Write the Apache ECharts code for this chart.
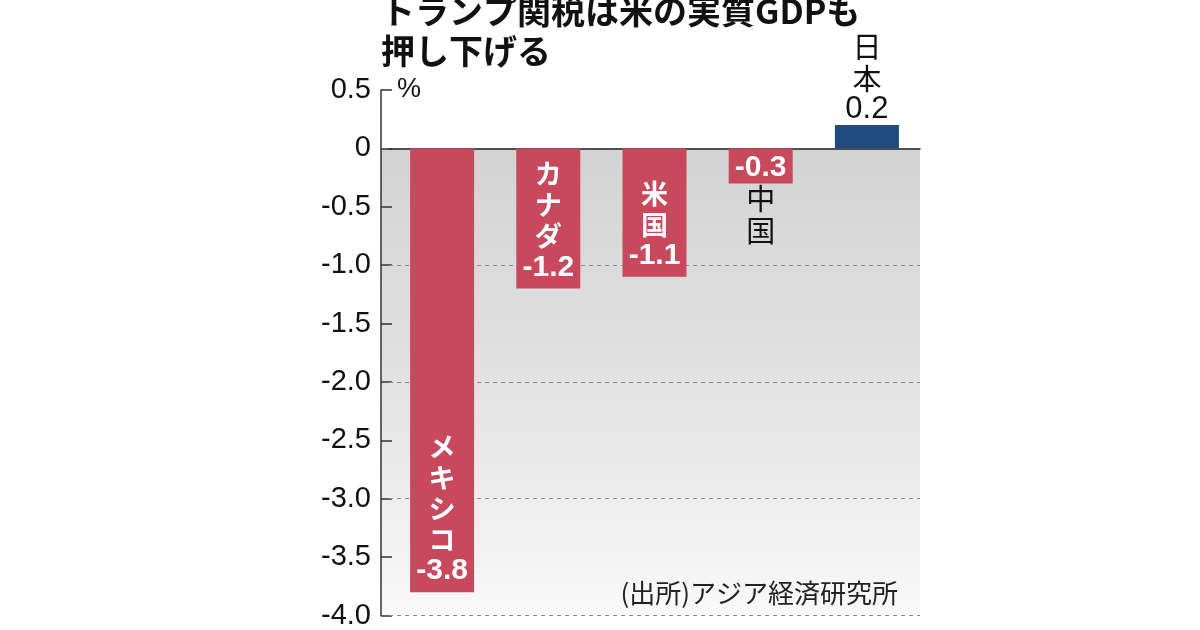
<!DOCTYPE html>
<html>
<head>
<meta charset="utf-8">
<script src="https://cdn.jsdelivr.net/npm/echarts@6/dist/echarts.min.js"></script>
<style>
  html, body { margin: 0; padding: 0; background: #fff; }
  #main { width: 1200px; height: 630px; }
</style>
</head>
<body>
<div id="main"></div>
<script>
// データ
var countries = ['メキシコ', 'カナダ', '米国', '中国', '日本'];
var gdpChange = [-3.8, -1.2, -1.1, -0.3, 0.2];
var barColors = ['#c8485c', '#c8485c', '#c8485c', '#c8485c', '#1f4b7e'];
var yTicks = [0.5, 0, -0.5, -1.0, -1.5, -2.0, -2.5, -3.0, -3.5, -4.0];
var yTickLabels = ['0.5', '0', '-0.5', '-1.0', '-1.5', '-2.0', '-2.5', '-3.0', '-3.5', '-4.0'];
var dashedLines = [-1, -2, -3, -4];

var GRID_LEFT = 389, GRID_RIGHT = 280, AXIS_OFFSET = 8;
var NUM_FONT = "'Liberation Sans', Arial, sans-serif";
var JP_FONT = "'Noto Sans CJK JP', sans-serif";

var chart = echarts.init(document.getElementById('main'));

// 国名を縦書きにしてラベルを作る
function vertical(name, key) {
    return name.split('').map(function (c) { return '{' + key + '|' + c + '}'; }).join('\n');
}

var barData = gdpChange.map(function (v, i) {
    var label;
    if (v > 0) {
        // 日本：棒の上に黒字
        label = {
            position: 'top', distance: 2,
            formatter: vertical(countries[i], 'b') + '\n{bv|' + v.toFixed(1) + '}'
        };
    } else if (v > -0.5) {
        // 中国：数値は棒の中、国名は棒の下
        label = {
            position: 'insideTop', distance: 3,
            formatter: '{v|' + v.toFixed(1) + '}\n' + vertical(countries[i], 'b')
        };
    } else {
        label = {
            position: 'insideBottom', distance: 5,
            formatter: vertical(countries[i], 'n') + '\n{v|' + v.toFixed(1) + '}'
        };
    }
    label.show = true;
    label.rich = {
        n: { color: '#fff', fontFamily: JP_FONT, fontSize: 27, fontWeight: 'bold', lineHeight: 31 },
        v: { color: '#fff', fontFamily: NUM_FONT, fontSize: 30, fontWeight: 'bold', lineHeight: 32 },
        b: { color: '#111', fontFamily: JP_FONT, fontSize: 29, lineHeight: 32 },
        bv: { color: '#111', fontFamily: NUM_FONT, fontSize: 31, lineHeight: 28 }
    };
    return { value: v, itemStyle: { color: barColors[i] }, label: label };
});

chart.setOption({
    animation: false,
    title: [{
        text: 'トランプ関税は米の実質GDPも\n押し下げる',
        left: 376, top: -14,
        textStyle: { fontFamily: JP_FONT, fontSize: 34, fontWeight: 'bold', color: '#111', lineHeight: 40 }
    }, {
        text: '(出所)アジア経済研究所',
        right: 297, top: 575,
        textStyle: { fontFamily: JP_FONT, fontSize: 26, fontWeight: 'normal', color: '#222' }
    }],
    grid: { left: GRID_LEFT, right: GRID_RIGHT, top: 90, bottom: 12 },
    xAxis: {
        type: 'category',
        data: countries,
        axisLine: { onZero: true, lineStyle: { color: '#222', width: 1.5 } },
        axisTick: { show: false },
        axisLabel: { show: false }
    },
    yAxis: {
        type: 'value',
        min: -4, max: 0.5, interval: 0.5,
        offset: AXIS_OFFSET,
        name: '%',
        nameLocation: 'end',
        nameGap: 0,
        nameTextStyle: {
            fontFamily: NUM_FONT, fontSize: 27, color: '#111',
            align: 'left', verticalAlign: 'middle', padding: [0, 0, 0, 16]
        },
        axisLine: { show: true, lineStyle: { color: '#333', width: 1.5 } },
        axisTick: { show: true, inside: true, length: 11, lineStyle: { color: '#333', width: 1.5 } },
        splitLine: { show: false },
        axisLabel: {
            margin: 10,
            fontFamily: NUM_FONT, fontSize: 29, color: '#111',
            formatter: function (val) {
                var i = yTicks.findIndex(function (t) { return Math.abs(t - val) < 1e-6; });
                return i >= 0 ? yTickLabels[i] : '';
            }
        }
    },
    series: [{
        type: 'bar',
        barWidth: 64,
        data: barData,
        markLine: {
            z: 1,
            silent: true,
            symbol: 'none',
            label: { show: false },
            lineStyle: { color: '#8a8a8a', type: [4, 4], width: 1 },
            data: dashedLines.map(function (v) { return { yAxis: v }; })
        }
    }]
});

// ゼロ以下の背景グラデーション
var yZero = chart.convertToPixel({ yAxisIndex: 0 }, 0);
var yBottom = chart.convertToPixel({ yAxisIndex: 0 }, -4);
chart.setOption({
    graphic: [{
        type: 'rect',
        z: -10,
        shape: {
            x: GRID_LEFT - AXIS_OFFSET, y: yZero,
            width: 1200 - GRID_RIGHT - GRID_LEFT + AXIS_OFFSET, height: yBottom - yZero
        },
        style: {
            fill: new echarts.graphic.LinearGradient(0, 0, 0, 1, [
                { offset: 0, color: '#d3d3d3' },
                { offset: 0.5, color: '#e2e2e2' },
                { offset: 1, color: '#f9f9f9' }
            ])
        }
    }]
});
</script>
</body>
</html>
